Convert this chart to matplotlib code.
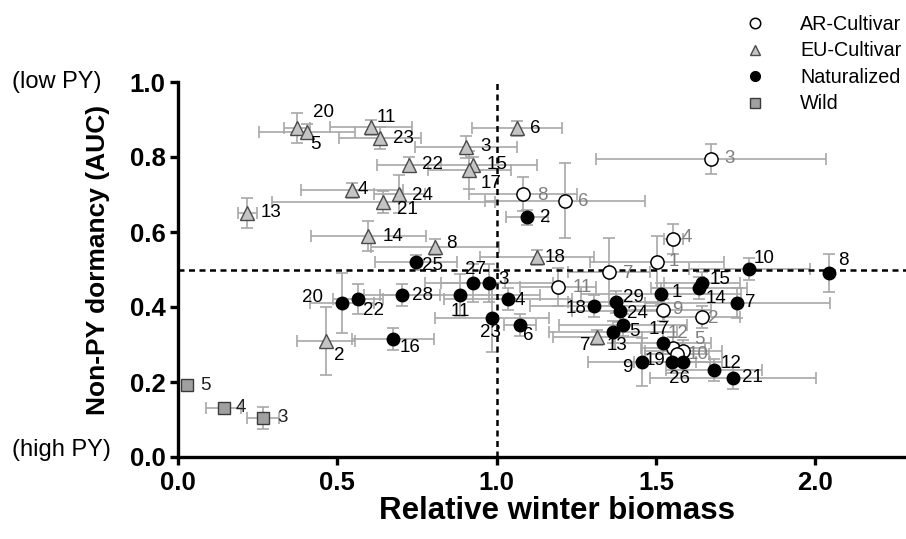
#!/usr/bin/env python3
"""Non-PY dormancy (AUC) against relative winter biomass, per accession group."""

import matplotlib

matplotlib.use("Agg")
import matplotlib.pyplot as plt
from matplotlib.lines import Line2D

plt.rcParams["font.family"] = ["Liberation Sans", "DejaVu Sans"]

# AR-Cultivar
ar_ids = [3, 8, 6, 4, 1, 7, 11, 9, 2, 12, 5, 10]
ar_x = [1.673, 1.083, 1.215, 1.554, 1.504, 1.353, 1.193, 1.523, 1.645, 1.554, 1.586, 1.567]
ar_y = [0.795, 0.701, 0.683, 0.581, 0.520, 0.493, 0.453, 0.392, 0.373, 0.291, 0.283, 0.275]
ar_xerr = [0.36, 0.17, 0.25, 0.03, 0.21, 0.13, 0.12, 0.15, 0.12, 0.10, 0.12, 0.10]
ar_yerr = [0.04, 0.045, 0.10, 0.04, 0.07, 0.09, 0.05, 0.03, 0.03, 0.03, 0.03, 0.03]

# EU-Cultivar
eu_ids = [20, 5, 11, 23, 3, 6, 15, 17, 22, 4, 24, 21, 13, 14, 8, 18, 2, 7]
eu_x = [0.374, 0.405, 0.606, 0.634, 0.904, 1.064, 0.926, 0.914, 0.725, 0.546,
        0.694, 0.644, 0.217, 0.597, 0.807, 1.127, 0.465, 1.316]
eu_y = [0.877, 0.867, 0.880, 0.851, 0.827, 0.877, 0.779, 0.765, 0.779, 0.712,
        0.701, 0.680, 0.651, 0.589, 0.560, 0.533, 0.309, 0.320]
eu_xerr = [0.04, 0.15, 0.13, 0.13, 0.16, 0.14, 0.20, 0.13, 0.10, 0.16,
           0.08, 0.35, 0.03, 0.18, 0.20, 0.18, 0.09, 0.14]
eu_yerr = [0.04, 0.02, 0.02, 0.03, 0.03, 0.02, 0.02, 0.05, 0.02, 0.02,
           0.05, 0.03, 0.04, 0.04, 0.02, 0.02, 0.09, 0.02]

# Naturalized
nat_ids = [2, 25, 10, 8, 27, 3, 4, 28, 11, 20, 22, 23, 6, 16, 18,
           29, 24, 5, 13, 1, 15, 14, 7, 17, 9, 19, 26, 12, 21]
nat_x = [1.096, 0.747, 1.793, 2.044, 0.926, 0.976, 1.036, 0.703, 0.885, 0.515,
         0.565, 0.986, 1.074, 0.675, 1.306, 1.375, 1.388, 1.397, 1.366, 1.516,
         1.645, 1.636, 1.755, 1.523, 1.457, 1.551, 1.586, 1.683, 1.743]
nat_y = [0.640, 0.520, 0.501, 0.491, 0.464, 0.464, 0.421, 0.432, 0.432, 0.411,
         0.421, 0.371, 0.352, 0.315, 0.403, 0.413, 0.389, 0.352, 0.333, 0.435,
         0.464, 0.451, 0.411, 0.304, 0.253, 0.253, 0.253, 0.232, 0.211]
nat_xerr = [0.065, 0.13, 0.19, 0.0, 0.10, 0.20, 0.20, 0.12, 0.25, 0.10,
            0.08, 0.18, 0.05, 0.13, 0.20, 0.15, 0.15, 0.20, 0.20, 0.25,
            0.12, 0.15, 0.29, 0.15, 0.17, 0.12, 0.12, 0.15, 0.26]
nat_yerr = [0.02, 0.02, 0.03, 0.05, 0.05, 0.05, 0.03, 0.03, 0.057, 0.08,
            0.04, 0.09, 0.03, 0.03, 0.03, 0.03, 0.03, 0.03, 0.03, 0.03,
            0.03, 0.03, 0.04, 0.03, 0.064, 0.03, 0.03, 0.03, 0.03]

# Wild
wild_ids = [5, 4, 3]
wild_x = [0.028, 0.144, 0.267]
wild_y = [0.192, 0.131, 0.104]
wild_xerr = [0.0, 0.055, 0.05]
wild_yerr = [0.0, 0.005, 0.03]

# label offsets in pixels (dx, dy up, ha)
ar_lab = [(13, 0, "left"), (14, -1, "left"), (13, -1, "left"), (9, 2, "left"),
          (11, 0, "left"), (14, -1, "left"), (15, 0, "left"), (9, 0, "left"),
          (6, -1, "left"), (-5, 14, "left"), (11, 11, "left"), (10, -1, "left")]
eu_lab = [(16, 16, "left"), (3, -13, "left"), (6, 10, "left"), (13, -1, "left"),
          (14, 0, "left"), (13, 0, "left"), (14, 0, "left"), (11, -13, "left"),
          (13, 0, "left"), (6, 0, "left"), (13, -1, "left"), (14, -8, "left"),
          (13, 0, "left"), (14, 0, "left"), (11, 3, "left"), (8, 0, "left"),
          (8, -14, "left"), (-7, -8, "right")]
nat_lab = [(13, 0, "left"), (6, -4, "left"), (4, 11, "left"), (9, 12, "left"),
           (2, 13, "center"), (9, 3, "left"), (7, -1, "left"), (10, -1, "left"),
           (0, -17, "center"), (-19, 5, "right"), (5, -11, "left"), (-2, -15, "center"),
           (3, -11, "left"), (7, -9, "left"), (-8, -3, "right"), (7, 5, "left"),
           (7, -2, "left"), (6, -7, "left"), (-7, -13, "left"), (11, 1, "left"),
           (8, 3, "left"), (6, -11, "left"), (8, 0, "left"), (-15, 13, "left"),
           (-10, -5, "right"), (-7, 2, "right"), (-4, -16, "center"), (6, 7, "left"),
           (9, 0, "left")]
wild_lab = [(13, 0, "left"), (12, 0, "left"), (14, 0, "left")]

ERR_COLOR = "#a8a8a8"

GROUPS = [
    ("AR-Cultivar", ar_ids, ar_x, ar_y, ar_xerr, ar_yerr, ar_lab,
     dict(marker="o", ms=9.5, mfc="white", mec="black", mew=1.1), "#7f7f7f"),
    ("EU-Cultivar", eu_ids, eu_x, eu_y, eu_xerr, eu_yerr, eu_lab,
     dict(marker="^", ms=9.5, mfc="#c4c4c4", mec="#4a4a4a", mew=1.0), "black"),
    ("Naturalized", nat_ids, nat_x, nat_y, nat_xerr, nat_yerr, nat_lab,
     dict(marker="o", ms=9, mfc="black", mec="black", mew=1.0), "black"),
    ("Wild", wild_ids, wild_x, wild_y, wild_xerr, wild_yerr, wild_lab,
     dict(marker="s", ms=8.5, mfc="#a0a0a0", mec="#3a3a3a", mew=1.0), "#202020"),
]


def main() -> int:
    fig = plt.figure(figsize=(9.06, 5.39), dpi=100)
    ax = fig.add_axes([178 / 906, 1 - 457 / 539, 728 / 906, 375 / 539])

    ax.axhline(0.5, color="black", lw=1.8, ls=(0, (2.4, 1.8)), zorder=2)
    ax.axvline(1.0, color="black", lw=1.8, ls=(0, (2.4, 1.8)), zorder=2)

    for name, ids, xs, ys, xe, ye, labs, style, lab_color in GROUPS:
        ax.errorbar(xs, ys, xerr=xe, yerr=ye, fmt="none", ecolor=ERR_COLOR,
                    elinewidth=1.2, capsize=4, capthick=1.2, zorder=1)
    for name, ids, xs, ys, xe, ye, labs, style, lab_color in GROUPS:
        ax.plot(xs, ys, ls="none", zorder=4, clip_on=False, **style)
        for pid, x, y, (dx, dy, ha) in zip(ids, xs, ys, labs):
            ax.annotate(str(pid), (x, y), xytext=(dx, dy), textcoords="offset pixels",
                        ha=ha, va="center", fontsize=13.5, color=lab_color, zorder=5)

    ax.set_xlim(0, 2.285)
    ax.set_ylim(0, 1.0)
    ax.set_xticks([0.0, 0.5, 1.0, 1.5, 2.0])
    ax.set_yticks([0.0, 0.2, 0.4, 0.6, 0.8, 1.0])
    ax.set_xticklabels(["0.0", "0.5", "1.0", "1.5", "2.0"])
    ax.set_yticklabels(["0.0", "0.2", "0.4", "0.6", "0.8", "1.0"])
    for side in ("top", "right"):
        ax.spines[side].set_visible(False)
    for side in ("left", "bottom"):
        ax.spines[side].set_linewidth(2.4)
    ax.tick_params(direction="out", length=6, width=2.4, labelsize=18.5)
    ax.tick_params(axis="x", pad=4)
    ax.tick_params(axis="y", pad=3)
    for lab in ax.get_xticklabels() + ax.get_yticklabels():
        lab.set_fontweight("bold")

    fig.text(557 / 906, 1 - 511 / 539, "Relative winter biomass", ha="center", va="center",
             fontsize=22.5, fontweight="bold")
    fig.text(98 / 906, 1 - 260 / 539, "Non-PY dormancy (AUC)", ha="center", va="center",
             rotation=90, fontsize=19, fontweight="bold")
    fig.text(12 / 906, 1 - 82 / 539, "(low PY)", ha="left", va="center", fontsize=17)
    fig.text(12 / 906, 1 - 450 / 539, "(high PY)", ha="left", va="center", fontsize=17)

    handles = [Line2D([], [], ls="none", **dict(g[7], ms=g[7]["ms"] - 2)) for g in GROUPS]
    fig.legend(handles, [g[0] for g in GROUPS], loc="upper left",
               bbox_to_anchor=(745 / 906, 1 - 15 / 539), frameon=False, fontsize=14.2,
               handlelength=1.0, handletextpad=1.8, labelspacing=0.38,
               borderpad=0, borderaxespad=0)

    fig.savefig("out.png", dpi=100)
    plt.close(fig)
    return 0


if __name__ == "__main__":
    raise SystemExit(main())
